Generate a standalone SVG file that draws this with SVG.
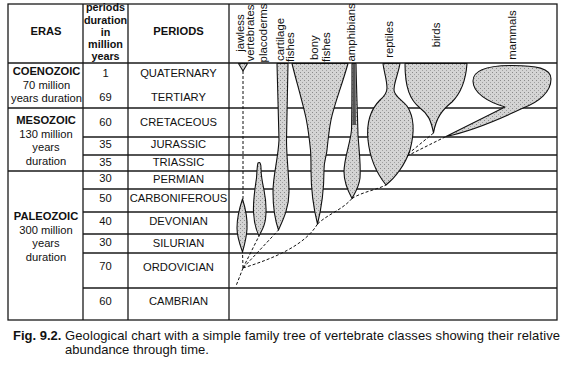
<svg xmlns="http://www.w3.org/2000/svg" width="567" height="366" viewBox="0 0 567 366">
<style>
.ln{stroke:#1a1a1a;stroke-width:1.3;fill:none}
.t{font-family:"Liberation Sans",Arial,sans-serif;font-size:11.2px;fill:#111;text-anchor:middle}
.b{font-weight:bold}
.h{font-family:"Liberation Sans",Arial,sans-serif;font-size:10.8px;font-weight:bold;fill:#111;text-anchor:middle}
.lab{font-family:"Liberation Sans",Arial,sans-serif;font-size:11.4px;fill:#111}
.sh{fill:url(#stip);stroke:#111;stroke-width:1.1;stroke-linejoin:round}
.dash{fill:none;stroke:#111;stroke-width:1;stroke-dasharray:3 2}
.cap{font-family:"Liberation Sans",Arial,sans-serif;font-size:13px;fill:#111}
</style>
<defs>
<pattern id="stip" width="4" height="4" patternUnits="userSpaceOnUse">
<rect width="4" height="4" fill="#d4d4d4"/>
<rect x="0" y="0" width="1" height="1" fill="#8a8a8a"/>
<rect x="2" y="2" width="1" height="1" fill="#a0a0a0"/>
</pattern>
</defs>
<rect width="567" height="366" fill="#fff"/>

<g id="table">
<rect x="8" y="4" width="549" height="316" class="ln" stroke-width="1.5"/>
<line class="ln" x1="83" y1="4" x2="83" y2="320"/>
<line class="ln" x1="128" y1="4" x2="128" y2="320"/>
<line class="ln" x1="229" y1="4" x2="229" y2="320"/>
<line class="ln" x1="8" y1="63" x2="557" y2="63"/>
<line class="ln" x1="8" y1="108" x2="557" y2="108"/>
<line class="ln" x1="83" y1="137" x2="557" y2="137"/>
<line class="ln" x1="83" y1="155" x2="557" y2="155"/>
<line class="ln" x1="8" y1="171" x2="557" y2="171"/>
<line class="ln" x1="83" y1="189" x2="557" y2="189"/>
<line class="ln" x1="83" y1="212" x2="557" y2="212"/>
<line class="ln" x1="83" y1="234" x2="557" y2="234"/>
<line class="ln" x1="83" y1="253" x2="557" y2="253"/>
<line class="ln" x1="83" y1="288" x2="557" y2="288"/>

<text class="t b" x="46" y="35">ERAS</text>
<text class="t b" x="178.5" y="35">PERIODS</text>
<text class="h" x="105.5" y="11">periods</text>
<text class="h" x="105.5" y="23.5">duration</text>
<text class="h" x="105.5" y="35.5">in</text>
<text class="h" x="105.5" y="47.5">million</text>
<text class="h" x="105.5" y="59.5">years</text>

<text class="t b" x="46.5" y="75">COENOZOIC</text>
<text class="t" x="46.5" y="88.5">70 million</text>
<text class="t" x="46.5" y="101.5">years duration</text>
<text class="t b" x="46" y="124">MESOZOIC</text>
<text class="t" x="46" y="138">130 million</text>
<text class="t" x="46" y="150.5">years</text>
<text class="t" x="46" y="165">duration</text>
<text class="t b" x="46" y="220">PALEOZOIC</text>
<text class="t" x="46" y="234">300 million</text>
<text class="t" x="46" y="246.5">years</text>
<text class="t" x="46" y="261">duration</text>

<text class="t" x="105.5" y="77">1</text>
<text class="t" x="105.5" y="101">69</text>
<text class="t" x="105.5" y="126">60</text>
<text class="t" x="105.5" y="147.5">35</text>
<text class="t" x="105.5" y="166">35</text>
<text class="t" x="105.5" y="182">30</text>
<text class="t" x="105.5" y="202">50</text>
<text class="t" x="105.5" y="225">40</text>
<text class="t" x="105.5" y="246">30</text>
<text class="t" x="105.5" y="270">70</text>
<text class="t" x="105.5" y="305">60</text>

<text class="t" x="178.5" y="77">QUATERNARY</text>
<text class="t" x="178.5" y="100.5">TERTIARY</text>
<text class="t" x="178.5" y="126">CRETACEOUS</text>
<text class="t" x="178.5" y="148">JURASSIC</text>
<text class="t" x="178.5" y="165.5">TRIASSIC</text>
<text class="t" x="178.5" y="183">PERMIAN</text>
<text class="t" x="178.5" y="201.5">CARBONIFEROUS</text>
<text class="t" x="178.5" y="225">DEVONIAN</text>
<text class="t" x="178.5" y="246.5">SILURIAN</text>
<text class="t" x="178.5" y="271">ORDOVICIAN</text>
<text class="t" x="178.5" y="305">CAMBRIAN</text>
</g>

<g id="labels">
<text class="lab" text-anchor="middle" transform="translate(243.5,33) rotate(-90)">jawless</text>
<text class="lab" text-anchor="middle" transform="translate(254.3,33) rotate(-90)">vertebrates</text>
<text class="lab" text-anchor="middle" transform="translate(267.3,33) rotate(-90)">placoderms</text>
<text class="lab" text-anchor="start" transform="translate(284.3,61) rotate(-90)">cartilage</text>
<text class="lab" text-anchor="start" transform="translate(294.3,62) rotate(-90)">fishes</text>
<text class="lab" text-anchor="start" transform="translate(317.5,60) rotate(-90)">bony</text>
<text class="lab" text-anchor="start" transform="translate(330.2,62) rotate(-90)">fishes</text>
<text class="lab" text-anchor="start" transform="translate(354.8,61.5) rotate(-90)">amphibians</text>
<text class="lab" text-anchor="middle" transform="translate(392.8,39.5) rotate(-90)">reptiles</text>
<text class="lab" text-anchor="middle" transform="translate(440.2,35) rotate(-90)">birds</text>
<text class="lab" text-anchor="middle" transform="translate(515.5,35) rotate(-90)">mammals</text>
</g>

<g id="jawless">
<path class="sh" d="M238.5,63.5 L247.5,63.5 L243,71 Z"/>
<path class="sh" d="M242.5,199 C246,210 247.5,220 247,229 C246.5,238 244.5,245 242.5,252 C240,245 237,237 237,228 C237,218 239.5,208 242.5,199 Z"/>
</g>
<g id="placoderms">
<path class="sh" d="M258,163 C260,161.5 261,164 261,168 C261,175 262,181 264,190 C266,200 266.5,211 265.5,219 C264.5,227 261.5,231 259,236 C256,230 254,222 253.5,212 C253,200 255,188 256.5,178 C257,172 257,166 258,163 Z"/>
</g>
<g id="cartilage-fishes">
<path class="sh" d="M277,63.5 L288,63.5 L286.5,140 C286.5,158 289,175 289,192 C289,208 283,220 278.5,230 C275,220 273,208 273,192 C273,175 278,160 279,140 Z"/>
</g>
<g id="bony-fishes">
<path class="sh" d="M292,63.5 L348,63.5 C342,85 334,105 331,120 C329,130 328,140 327,150 C326.5,156 324,160 324,170 C324,190 321,210 317.5,224 C314,210 311,190 311,170 C311,160 311,156 310.5,150 C309.5,140 308,128 306,118 C302,100 296,80 292,63.5 Z"/>
</g>
<g id="amphibians">
<path class="sh" d="M352,63.5 L356,63.5 C356.5,90 357.5,115 358,135 C359,150 361,165 360,178 C359,187 355,193 352,198.5 C348.5,192 344,182 344,172 C344,158 350,145 351.5,130 C352,110 352,90 352,63.5 Z"/>
<path d="M352.6,64 L355.4,64 L356,125 L352.4,125 Z" fill="#555"/>
</g>
<g id="reptiles">
<path class="sh" d="M383,63.5 L400,63.5 C398,75 394,82 394,90 C394,96 402,100 407,106 C415,118 414,135 410,150 C405,165 395,178 386,185 C378,175 370,160 368,140 C366,120 372,108 380,100 C386,95 387,92 387,88 C387,80 384,72 383,63.5 Z"/>
</g>
<g id="birds">
<path class="sh" d="M405,63.5 L467,63.5 C466,78 462,92 452,102 C442,110 436,118 433.5,133 C431,120 428,114 420,108 C410,100 405,88 405,63.5 Z"/>
</g>
<g id="mammals">
<path class="sh" d="M505,107 C488,102 473,93 473,81 C473,70 488,65.5 512,65.5 C536,65.5 551,68 551,79 C551,92 539,102 523,108 C500,119 472,131 446,136.5 L505,107 Z"/>
</g>

<g id="connectors">
<path class="dash" d="M243,71 L243,199"/>
<path class="dash" d="M243,268 L236,286"/>
<path class="dash" d="M243,268 L242.5,252"/>
<path class="dash" d="M243,268 L259,236"/>
<path class="dash" d="M243,268 L278.5,230"/>
<path class="dash" d="M243,268 C275,258 305,245 317.5,224"/>
<path class="dash" d="M317.5,224 C328,214 342,210 352,198.5"/>
<path class="dash" d="M352,198.5 C362,192 376,190 386,185"/>
<path class="dash" d="M408,154 L433.5,133"/>
<path class="dash" d="M407,156 L446,136.5"/>
</g>

<g id="caption">
<text class="cap" x="13" y="340" font-weight="bold">Fig. 9.2.</text>
<text class="cap" x="65" y="340" textLength="495" lengthAdjust="spacing">Geological chart with a simple family tree of vertebrate classes showing their relative</text>
<text class="cap" x="65" y="354">abundance through time.</text>
</g>
</svg>
